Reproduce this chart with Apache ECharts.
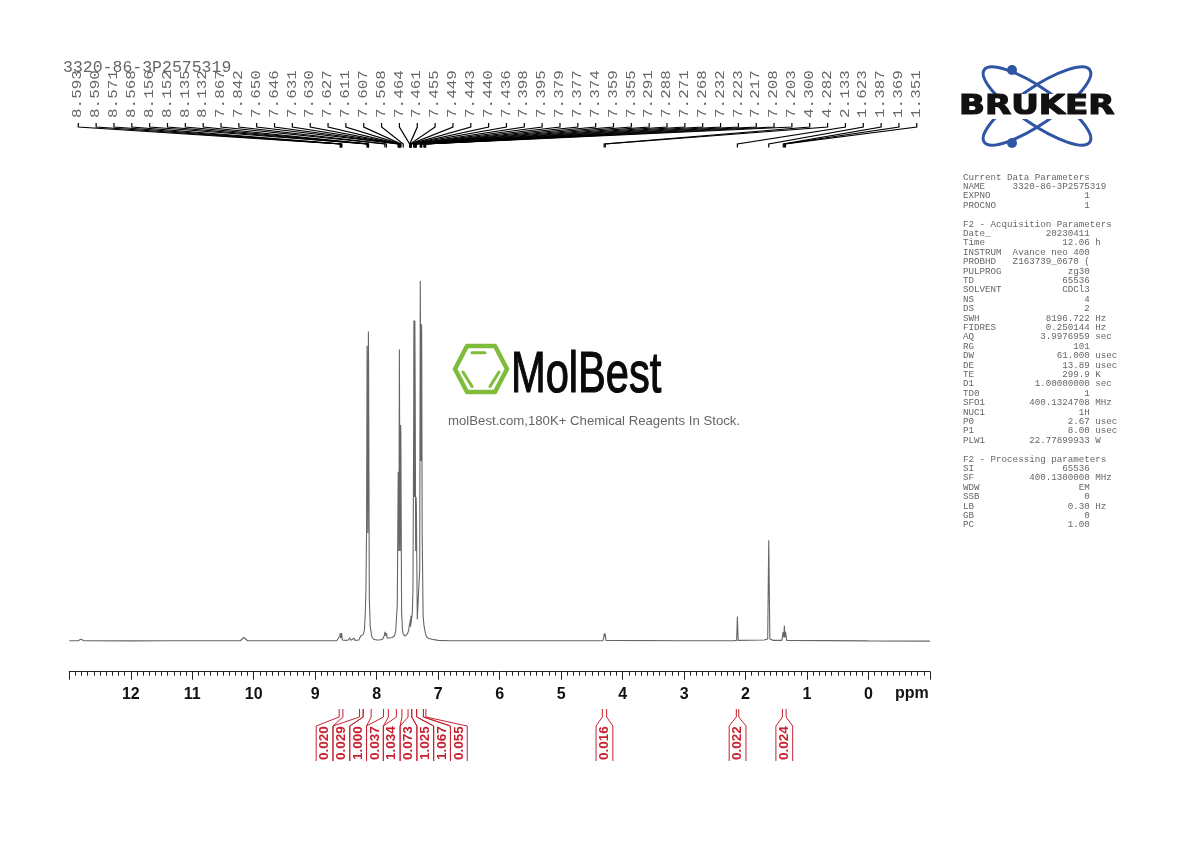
<!DOCTYPE html>
<html>
<head>
<meta charset="utf-8">
<title>3320-86-3P2575319</title>
<script src="https://cdn.jsdelivr.net/npm/echarts@6/dist/echarts.min.js"></script>
<style>
  html, body { margin: 0; padding: 0; background: #fff; }
  #chart { width: 1190px; height: 842px; }
</style>
</head>
<body>
<div id="chart"></div>
<script>
// ---- spectrum: ppm and % of the tallest line ----
const specPpm = [
  13, 12.86, 12.81, 12.76, 12, 11.4, 11, 10.5, 10.22, 10.16, 10.1, 9.9, 9.5, 9, 8.65,
  8.62, 8.597, 8.593, 8.585, 8.575, 8.57, 8.56, 8.5, 8.46, 8.44, 8.42, 8.39, 8.37, 8.35, 8.29,
  8.26, 8.24, 8.22, 8.2, 8.185, 8.175, 8.165, 8.156, 8.152, 8.144, 8.135, 8.132, 8.12, 8.105, 8.08, 8.05, 8,
  7.95, 7.9, 7.875, 7.867, 7.855, 7.842, 7.83, 7.8, 7.75, 7.71, 7.69,
  7.665, 7.65, 7.646, 7.638, 7.631, 7.627, 7.619, 7.611, 7.607, 7.595, 7.58, 7.568, 7.54, 7.5, 7.48,
  7.464, 7.461, 7.455, 7.449, 7.443, 7.44, 7.436, 7.42,
  7.41, 7.398, 7.395, 7.387, 7.379, 7.377, 7.374, 7.366, 7.359, 7.355, 7.34, 7.32, 7.3,
  7.291, 7.288, 7.28, 7.271, 7.268, 7.26, 7.245, 7.232, 7.223, 7.217, 7.208, 7.203, 7.19, 7.15, 7.1, 7, 6.8, 5,
  4.32, 4.305, 4.3, 4.295, 4.29, 4.285, 4.282, 4.27, 3, 2.2, 2.145, 2.133, 2.12,
  1.7, 1.64, 1.623, 1.605, 1.55, 1.41, 1.39, 1.387, 1.378, 1.369, 1.36, 1.351, 1.33, 0, -1
];
const specInt = [
  0.1, 0.1, 0.5, 0.1, 0.05, 0.1, 0.1, 0.1, 0.1, 1, 0.1, 0.1, 0.1, 0.1, 0.1,
  0.2, 1.5, 2.2, 0.8, 1.5, 2.2, 0.3, 0.2, 0.3, 0.9, 0.2, 0.3, 0.8, 0.2, 0.3,
  1.4, 1, 1.8, 3, 8, 14, 30, 82, 70, 30, 86, 78, 12, 4, 1.2, 0.5, 0.3,
  0.3, 0.6, 1.6, 2.6, 1.5, 2.2, 0.8, 0.7, 1, 1.4, 3,
  10, 47, 46, 25, 81, 60, 25, 60, 58, 8, 3, 2, 1.4, 2, 3,
  5, 4.4, 6, 4, 7, 5, 5, 8,
  14, 62, 89, 40, 89, 80, 70, 25, 40, 38, 6, 6, 20,
  100, 90, 50, 88, 85, 30, 7, 4.5, 4, 3, 2.2, 2.5, 1.2, 0.7, 0.5, 0.2, 0.1, 0.1,
  0.1, 1.2, 2, 1.2, 2.2, 1.2, 1.8, 0.2, 0.1, 0.1, 0.2, 6.8, 0.2,
  0.3, 0.6, 28, 0.6, 0.2, 0.2, 2.5, 3, 1, 4.3, 1, 2.6, 0.2, 0.05, 0
];

// ---- peak picking labels across the top ----
const pickPpm = [
  8.593, 8.590, 8.571, 8.568, 8.156, 8.152, 8.135, 8.132, 7.867, 7.842, 7.650, 7.646,
  7.631, 7.630, 7.627, 7.611, 7.607, 7.568, 7.464, 7.461, 7.455, 7.449, 7.443, 7.440,
  7.436, 7.398, 7.395, 7.379, 7.377, 7.374, 7.359, 7.355, 7.291, 7.288, 7.271, 7.268,
  7.232, 7.223, 7.217, 7.208, 7.203, 4.300, 4.282, 2.133, 1.623, 1.387, 1.369, 1.351
];

// ---- integrals under the axis ----
const intFrom = [8.61, 8.28, 8.22, 7.89, 7.68, 7.49, 7.43, 7.35, 7.24, 4.33, 2.15, 1.40];
const intTo = [8.55, 8.22, 8.09, 7.81, 7.59, 7.43, 7.35, 7.24, 7.2, 4.26, 2.11, 1.34];
const intLabel = ['0.020', '0.029', '1.000', '0.037', '1.034', '0.073', '1.025', '1.067', '0.055', '0.016', '0.022', '0.024'];

// ---- acquisition text block: key, value, unit ----
const paramsHead = [['Current Data Parameters'], ['NAME', '3320-86-3P2575319'], ['EXPNO', '1'], ['PROCNO', '1'], []];
const paramsAcq = [
  ['F2 - Acquisition Parameters'], ['Date_', '20230411'], ['Time', '12.06', 'h'],
  ['INSTRUM', 'Avance neo 400'], ['PROBHD', 'Z163739_0670 ('], ['PULPROG', 'zg30'], ['TD', '65536'],
  ['SOLVENT', 'CDCl3'], ['NS', '4'], ['DS', '2'], ['SWH', '8196.722', 'Hz'], ['FIDRES', '0.250144', 'Hz'],
  ['AQ', '3.9976959', 'sec'], ['RG', '101'], ['DW', '61.000', 'usec'], ['DE', '13.89', 'usec'],
  ['TE', '299.9', 'K'], ['D1', '1.00000000', 'sec'], ['TD0', '1'], ['SFO1', '400.1324708', 'MHz'],
  ['NUC1', '1H'], ['P0', '2.67', 'usec'], ['P1', '8.00', 'usec'], ['PLW1', '22.77899933', 'W'], []
];
const paramsProc = [
  ['F2 - Processing parameters'], ['SI', '65536'], ['SF', '400.1300000', 'MHz'], ['WDW', 'EM'],
  ['SSB', '0'], ['LB', '0.30', 'Hz'], ['GB', '0'], ['PC', '1.00']
];

const MONO = '"Liberation Mono", monospace';
const SANS = '"Liberation Sans", Arial, sans-serif';
const RED = '#c8202f';
const BLUE = '#2f55a4';
const GREEN = '#7fbc3c';

const paramRow = ([key, val, unit]) => {
  if (val == null) return key || '';
  return (key.padEnd(9) + val.padStart(14) + (unit ? ' ' + unit : '')).trimEnd();
};

// ---- peak picking brackets: label slot at the top, foot on the peak ----
function renderPick(params, api) {
  const i = params.dataIndex;
  const labelX = 78.3 + i * 17.84;
  const peakX = api.coord([pickPpm[i], 0])[0];
  return {
    type: 'group',
    children: [{
      type: 'polyline',
      shape: { points: [[labelX, 123], [labelX, 127], [peakX, 144], [peakX, 147.5]] },
      style: { stroke: '#000', lineWidth: 1.2, fill: null }
    }, {
      type: 'text', x: labelX, y: 118, rotation: Math.PI / 2, scaleX: 1.33,
      style: { text: pickPpm[i].toFixed(3), font: '12px ' + MONO, fill: '#666', align: 'left', verticalAlign: 'middle' }
    }]
  };
}

// ---- integral brackets: the close group sits in evenly spaced boxes ----
function renderIntegral(params, api) {
  const i = params.dataIndex;
  const x0 = api.coord([intFrom[i], 0])[0];
  const x1 = api.coord([intTo[i], 0])[0];
  const mid = i < 9 ? 324.6 + i * 16.78 : (x0 + x1) / 2;
  const style = { stroke: RED, lineWidth: 1, fill: null };
  return {
    type: 'group',
    children: [{
      type: 'polyline',
      shape: { points: [[x0, 709], [x0, 717], [mid - 8.4, 726], [mid - 8.4, 761]] },
      style
    }, {
      type: 'polyline',
      shape: { points: [[x1, 709], [x1, 717], [mid + 8.4, 726], [mid + 8.4, 761]] },
      style
    }, {
      type: 'text', x: mid, y: 760, rotation: Math.PI / 2,
      style: { text: intLabel[i], font: 'bold 13.5px ' + SANS, fill: RED, align: 'left', verticalAlign: 'middle' }
    }]
  };
}

const chart = echarts.init(document.getElementById('chart'));
chart.setOption({
  animation: false,
  backgroundColor: '#fff',
  grid: { left: 69.3, right: 260, top: 281, bottom: 170.3 },
  xAxis: {
    type: 'value', inverse: true, min: -1, max: 13, interval: 1,
    splitLine: { show: false },
    axisLine: { onZero: false, lineStyle: { color: '#222', width: 1 } },
    axisTick: { show: true, length: 8, lineStyle: { color: '#222', width: 1 } },
    minorTick: { show: true, splitNumber: 10, length: 4, lineStyle: { color: '#222', width: 1 } },
    axisLabel: {
      margin: 15, color: '#111', fontFamily: SANS, fontWeight: 'bold', fontSize: 16,
      showMinLabel: true, showMaxLabel: true,
      formatter: (v) => (v < 0 || v > 12 ? '' : String(v))
    }
  },
  yAxis: { type: 'value', show: false, min: -8.5, max: 100 },
  series: [{
    type: 'line', showSymbol: false, silent: true,
    lineStyle: { color: '#666', width: 1.1 },
    data: specPpm.map((p, i) => [p, specInt[i]])
  }, {
    type: 'custom', silent: true, clip: false, renderItem: renderPick,
    data: pickPpm.map((p) => [p, 0])
  }, {
    type: 'custom', silent: true, clip: false, renderItem: renderIntegral,
    data: intLabel.map((l, i) => [intFrom[i], 0])
  }],
  graphic: [
    { type: 'text', x: 63, y: 68, style: { text: '3320-86-3P2575319', font: '16.5px ' + MONO, fill: '#666', verticalAlign: 'middle' } },
    { type: 'text', x: 895, y: 693.5, style: { text: 'ppm', font: 'bold 16px ' + SANS, fill: '#111', verticalAlign: 'middle' } },
    // Bruker mark
    { type: 'ellipse', x: 1037, y: 106, rotation: -0.6, shape: { cx: 0, cy: 0, rx: 64, ry: 18 }, style: { stroke: BLUE, lineWidth: 3, fill: null } },
    { type: 'ellipse', x: 1037, y: 106, rotation: 0.6, shape: { cx: 0, cy: 0, rx: 64, ry: 18 }, style: { stroke: BLUE, lineWidth: 3, fill: null } },
    { type: 'circle', shape: { cx: 1012, cy: 70, r: 5 }, style: { fill: BLUE } },
    { type: 'circle', shape: { cx: 1012, cy: 143, r: 5 }, style: { fill: BLUE } },
    { type: 'rect', shape: { x: 955, y: 94, width: 164, height: 25 }, style: { fill: '#fff' } },
    { type: 'text', x: 959, y: 107, scaleX: 1.26, style: { text: 'BRUKER', font: 'bold 27px "DejaVu Sans"', fill: '#111', stroke: '#111', lineWidth: 1.2, verticalAlign: 'middle' } },
    // parameter block
    {
      type: 'text', x: 963, y: 172.5,
      style: { text: [...paramsHead, ...paramsAcq, ...paramsProc].map(paramRow).join('\n'), font: '9.2px ' + MONO, lineHeight: 9.4, fill: '#666' }
    },
    // MolBest watermark
    {
      type: 'polygon', shape: { points: [[467, 346], [495, 346], [507, 369], [495, 392], [467, 392], [455, 369]] },
      style: { stroke: GREEN, lineWidth: 4.5, fill: null, lineJoin: 'round' }
    },
    { type: 'line', shape: { x1: 472, y1: 352.7, x2: 485, y2: 352.7 }, style: { stroke: GREEN, lineWidth: 3, lineCap: 'round' } },
    { type: 'line', shape: { x1: 463, y1: 372, x2: 472, y2: 386.5 }, style: { stroke: GREEN, lineWidth: 3, lineCap: 'round' } },
    { type: 'line', shape: { x1: 499, y1: 372, x2: 490, y2: 386.5 }, style: { stroke: GREEN, lineWidth: 3, lineCap: 'round' } },
    { type: 'text', x: 511, y: 376, scaleX: 0.73, style: { text: 'MolBest', font: '57px ' + SANS, fill: '#0a0a0a', stroke: '#0a0a0a', lineWidth: 1.2, verticalAlign: 'middle' } },
    { type: 'text', x: 448, y: 421.5, style: { text: 'molBest.com,180K+ Chemical Reagents In Stock.', font: '13.2px ' + SANS, fill: '#666', verticalAlign: 'middle' } }
  ]
});
</script>
</body>
</html>
